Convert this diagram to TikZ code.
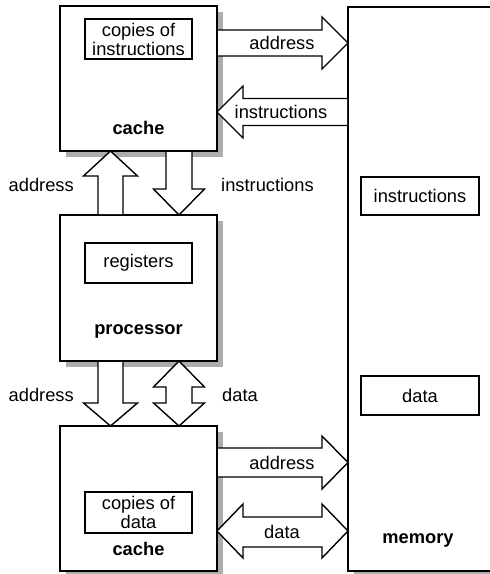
\documentclass[tikz,border=0pt]{standalone}
\usepackage{fontspec}
\setmainfont{Liberation Sans}
\begin{document}
\begin{tikzpicture}[x=1pt,y=-1pt,
  box/.style={draw, line width=1.9pt, inner sep=0pt, outer sep=0pt, fill=white},
  ibox/.style={draw, line width=1.5pt, inner sep=0pt, outer sep=0pt, align=center,
    font=\fontsize{18.3}{19}\selectfont},
  barrow/.style={draw, line width=1.4pt, fill=white, line join=miter},
  lbl/.style={inner sep=0pt, font=\fontsize{18.3}{19}\selectfont},
  blbl/.style={inner sep=0pt, font=\fontsize{18.3}{19}\selectfont\bfseries},
  shade/.style={fill=black!32}]
\useasboundingbox (0,0) rectangle (490,574);
% shadows
\fill[shade] (66,12) rectangle (223,157);
\fill[shade] (66,221) rectangle (223,367);
\fill[shade] (66,432) rectangle (223,578);
\fill[shade] (354,13) rectangle (500,578);
% boxes
\node[box, minimum width=157pt, minimum height=145pt] (cacheI) at (138.5,78.5) {};
\node[box, minimum width=157pt, minimum height=146pt] (proc) at (138.5,288) {};
\node[box, minimum width=157pt, minimum height=145pt] (cacheD) at (138.5,498.5) {};
\node[box, minimum width=160pt, minimum height=564pt] (mem) at (428,289) {};
% inner boxes
\node[ibox, minimum width=107pt, minimum height=40pt] (copI) at (138.5,39) {copies of\\instructions};
\node[blbl] (cacheIlbl) at (138.5,128) {cache};
\node[ibox, minimum width=107pt, minimum height=40pt] (regs) at (138.5,263) {registers};
\node[blbl] (proclbl) at (138.5,331) {processor};
\node[ibox, minimum width=107pt, minimum height=41pt] (copD) at (138.5,512.5) {copies of\\data};
\node[blbl] (cacheDlbl) at (138.5,549) {cache};
\node[ibox, minimum width=118pt, minimum height=38pt] (memI) at (420,196) {instructions};
\node[ibox, minimum width=118pt, minimum height=39pt] (memD) at (420,395.5) {data};
\node[blbl] (memlbl) at (418,540) {memory};
% horizontal block arrows
% address (top): cache -> memory
\draw[barrow] (218,30) -- (322,30) -- (322,17) -- (348,43) -- (322,69) -- (322,56) -- (218,56);
\node[lbl] (aI) at (282,43) {address};
% instructions (top): memory -> cache
\draw[barrow] (347,98.5) -- (243,98.5) -- (243,86) -- (217,112) -- (243,138) -- (243,125.5) -- (347,125.5);
\node[lbl] (iI) at (281,112) {instructions};
% address (bottom): cache -> memory
\draw[barrow] (218,448) -- (322,448) -- (322,436) -- (348,462.5) -- (322,489) -- (322,477) -- (218,477);
\node[lbl] (aD) at (282,463) {address};
% data (bottom): double
\draw[barrow] (243,517) -- (322,517) -- (322,504) -- (348,531) -- (322,558) -- (322,547) -- (243,547) -- (243,558) -- (217,531) -- (243,504) -- cycle;
\node[lbl] (dD) at (282,532) {data};
% vertical block arrows
% address up: processor -> cache
\draw[barrow] (98,214) -- (98,176) -- (83.5,176) -- (110.5,151) -- (137.5,176) -- (123,176) -- (123,214);
\node[lbl, anchor=east] (aP) at (74,185) {address};
% instructions down: cache -> processor
\draw[barrow] (166,152) -- (166,189) -- (153.5,189) -- (179,215) -- (204.5,189) -- (192,189) -- (192,152);
\node[lbl, anchor=west] (iP) at (221,185) {instructions};
% address down: processor -> data cache
\draw[barrow] (98,362) -- (98,403) -- (83.5,403) -- (110.5,426) -- (137.5,403) -- (123,403) -- (123,362);
\node[lbl, anchor=east] (aP2) at (74,395) {address};
% data double vertical
\draw[barrow] (166,387) -- (153.5,387) -- (179,361) -- (204.5,387) -- (192,387) -- (192,403) -- (204.5,403) -- (179,426) -- (153.5,403) -- (166,403) -- cycle;
\node[lbl, anchor=west] (dP) at (222,395) {data};
\end{tikzpicture}
\end{document}
